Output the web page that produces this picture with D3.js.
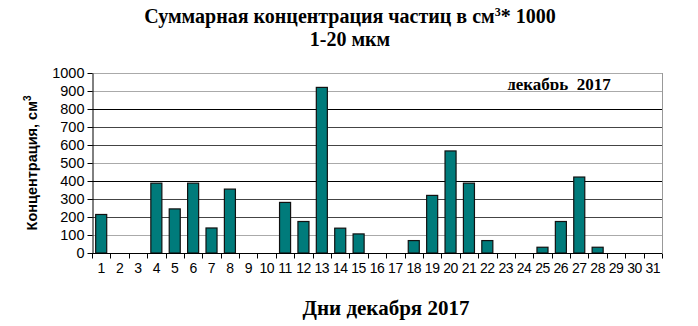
<!DOCTYPE html>
<html>
<head>
<meta charset="utf-8">
<script src="https://cdn.jsdelivr.net/npm/d3@7"></script>
<style>
  body { margin:0; background:#fff; }
</style>
</head>
<body>
<script>
// ---------------------------------------------------------------
// Data: daily particle concentration, December 2017
// ---------------------------------------------------------------
var days = d3.range(1, 32).map(String);
var values = [214, 0, 0, 388, 245, 388, 139, 355, 0, 0,
              281, 175, 920, 138, 106, 0, 0, 69, 320, 567,
              388, 69, 0, 0, 32, 175, 422, 32, 0, 0, 0];
var yTicks = [0, 100, 200, 300, 400, 500, 600, 700, 800, 900, 1000];

var W = 698, H = 326;
var m = {left:92, right:36, top:73, bottom:73};
var pw = W - m.left - m.right, ph = H - m.top - m.bottom;

var svg = d3.select("body").append("svg")
            .attr("width", W).attr("height", H);

var x = d3.scaleBand().domain(days).range([m.left, m.left + pw]).paddingInner(0.4).paddingOuter(0.2);
var y = d3.scaleLinear().domain([0, 1000]).range([m.top + ph, m.top]);

var serif = "'Liberation Serif', 'Times New Roman', serif";
var sans = "Arial, 'Liberation Sans', sans-serif";

// legend text (clipped at the 900 line like the original)
svg.append("clipPath").attr("id", "lclip")
   .append("rect").attr("x", m.left).attr("y", m.top).attr("width", pw).attr("height", y(900) - m.top - 1);
svg.append("text")
   .attr("clip-path", "url(#lclip)")
   .attr("x", 559).attr("y", 90)
   .attr("text-anchor", "middle")
   .style("font-family", serif)
   .style("font-weight", "bold").style("font-size", "17px")
   .style("white-space", "pre")
   .text("декабрь  2017");

// gridlines (colours mimic the scanned look)
function gridColor(v){
   if (v == 800 || v == 400) return "#000";
   if (v == 900 || v == 500 || v == 100 || v == 1000) return "#aaa";
   return "#444";
}
svg.append("g").selectAll("line").data(yTicks.filter(function(v){ return v > 0; }))
   .enter().append("line")
   .attr("x1", m.left).attr("x2", m.left + pw)
   .attr("y1", function(d){ return Math.round(y(d)) + 0.5; })
   .attr("y2", function(d){ return Math.round(y(d)) + 0.5; })
   .attr("stroke", gridColor).attr("stroke-width", 1);

// right border
svg.append("line")
   .attr("x1", m.left + pw + 0.5).attr("x2", m.left + pw + 0.5)
   .attr("y1", y(1000)).attr("y2", y(0))
   .attr("stroke", "#999");

// bars
svg.append("g").selectAll("rect").data(values)
   .enter().append("rect")
   .attr("x", function(d, i){ return x(days[i]); })
   .attr("width", x.bandwidth())
   .attr("y", function(d){ return y(d); })
   .attr("height", function(d){ return y(0) - y(d); })
   .attr("fill", function(d){ return d > 0 ? "#007b7b" : "none"; })
   .attr("stroke", function(d){ return d > 0 ? "#111" : "none"; })
   .attr("stroke-width", 1.2);

// y axis
var yAxis = svg.append("g")
   .attr("transform", "translate(" + (m.left + 0.5) + ",0)")
   .call(d3.axisLeft(y).tickValues(yTicks).tickFormat(d3.format("d"))
            .tickSize(5).tickPadding(3).tickSizeOuter(0));
yAxis.selectAll("text")
   .style("font-family", sans)
   .style("font-size", "14.5px").attr("fill", "#000");

// x axis: ticks between categories
var xg = svg.append("g").attr("transform", "translate(0," + (Math.round(y(0)) + 0.5) + ")");
xg.append("line").attr("x1", m.left).attr("x2", m.left + pw).attr("stroke", "#000");
xg.selectAll("line.tk").data(d3.range(0, 32))
   .enter().append("line").attr("class", "tk")
   .attr("x1", function(i){ return Math.round(m.left + i * pw / 31) + 0.5; })
   .attr("x2", function(i){ return Math.round(m.left + i * pw / 31) + 0.5; })
   .attr("y1", 0).attr("y2", 5).attr("stroke", "#000");
xg.selectAll("text").data(days)
   .enter().append("text")
   .attr("x", function(d){ return x(d) + x.bandwidth() / 2; })
   .attr("y", 19)
   .attr("text-anchor", "middle")
   .style("font-family", sans)
   .style("font-size", "14px")
   .style("letter-spacing", "-0.5px")
   .text(function(d){ return d; });

// y title
var yt = svg.append("text")
   .attr("transform", "translate(37,163) rotate(-90)")
   .attr("text-anchor", "middle")
   .style("font-family", sans)
   .style("font-weight", "bold").style("font-size", "14.5px");
yt.append("tspan").text("Концентрация, см");
yt.append("tspan").attr("dy", -6).style("font-size", "10px").text("3");

// chart title
var t1 = svg.append("text").attr("x", 350).attr("y", 23).attr("text-anchor", "middle")
   .style("font-family", serif).style("font-weight", "bold").style("font-size", "20px");
t1.append("tspan").text("Суммарная концентрация частиц в см");
t1.append("tspan").attr("dy", -7).style("font-size", "12px").text("3");
t1.append("tspan").attr("dy", 7).text("* 1000");
svg.append("text").attr("x", 350).attr("y", 46).attr("text-anchor", "middle")
   .style("font-family", serif).style("font-weight", "bold").style("font-size", "20px")
   .text("1-20 мкм");

// x title
svg.append("text").attr("x", 386).attr("y", 315).attr("text-anchor", "middle")
   .style("font-family", serif).style("font-weight", "bold").style("font-size", "21px")
   .text("Дни декабря 2017");
</script>
</body>
</html>
